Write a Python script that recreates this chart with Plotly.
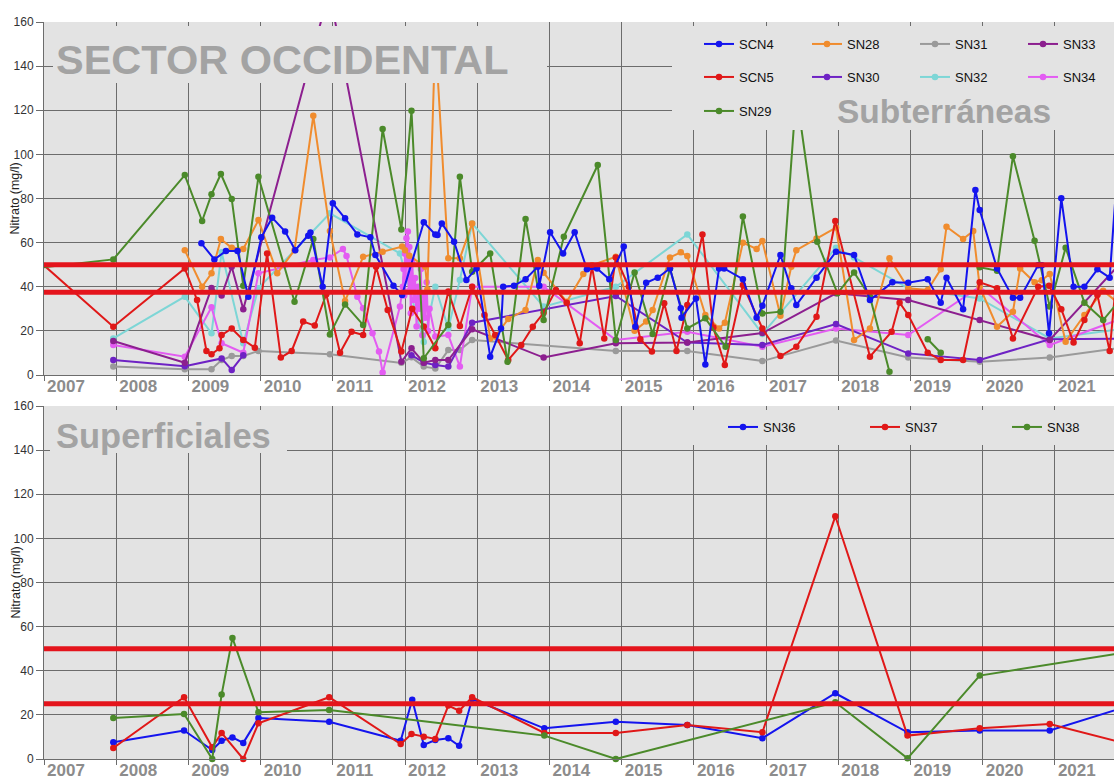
import plotly.graph_objects as go

# ---------------- DATA ----------------
years = list(range(2007, 2022))
year_labels = [str(y) for y in years]

limits_top = [50, 37.5]
limits_bottom = [50, 25]

# Subterráneas
scn4_x = [2009.18, 2009.36, 2009.52, 2009.68, 2009.83, 2010.01, 2010.16, 2010.34, 2010.48, 2010.66, 2010.69, 2010.86,
          2011.00, 2011.17, 2011.34, 2011.52, 2011.59, 2011.84, 2011.96, 2012.26, 2012.42, 2012.45, 2012.51, 2012.68,
          2012.85, 2012.99, 2013.18, 2013.33, 2013.36, 2013.51, 2013.67, 2013.84, 2013.86, 2014.01, 2014.19, 2014.35,
          2014.52, 2014.66, 2014.83, 2015.03, 2015.19, 2015.34, 2015.50, 2015.67, 2015.82, 2015.83, 2016.03, 2016.16,
          2016.35, 2016.42, 2016.68, 2016.87, 2016.95, 2017.20, 2017.35, 2017.42, 2017.70, 2017.97, 2018.22, 2018.44,
          2018.75, 2018.97, 2019.24, 2019.42, 2019.50, 2019.73, 2019.90, 2019.96, 2020.20, 2020.42, 2020.52, 2020.77,
          2020.82, 2020.92, 2021.09, 2021.26, 2021.41, 2021.59, 2021.76, 2021.86]
scn4_y = [59.7, 52.4, 56.2, 56.2, 35.5, 62.4, 71.3, 65.0, 56.6, 63.1, 64.6, 40.0,
          77.8, 71.0, 63.7, 62.4, 54.4, 40.5, 36.3, 69.2, 63.7, 63.5, 68.7, 60.4,
          43.1, 48.3, 8.3, 21.1, 40.0, 40.5, 43.4, 49.1, 40.5, 64.7, 55.1, 64.7,
          47.9, 48.3, 43.4, 58.2, 21.9, 41.8, 44.1, 48.3, 30.2, 26.0, 34.7, 4.8,
          48.3, 48.3, 43.4, 26.0, 31.4, 54.4, 39.3, 31.7, 44.1, 55.9, 54.4, 34.0,
          42.0, 41.8, 43.4, 32.8, 44.1, 29.8, 83.8, 74.8, 48.3, 35.0, 35.0, 49.8,
          49.8, 18.9, 80.1, 40.0, 40.0, 47.9, 44.1, 90.0]

scn5_x = [2006.99, 2007.96, 2008.95, 2009.12, 2009.25, 2009.32, 2009.43, 2009.46, 2009.60, 2009.76, 2009.92, 2010.09,
          2010.28, 2010.43, 2010.59, 2010.75, 2010.91, 2011.10, 2011.26, 2011.42, 2011.60, 2011.76, 2011.95, 2012.10,
          2012.26, 2012.42, 2012.60, 2012.76, 2012.93, 2013.10, 2013.25, 2013.43, 2013.61, 2013.77, 2013.92, 2014.09,
          2014.24, 2014.42, 2014.59, 2014.76, 2014.92, 2015.10, 2015.26, 2015.42, 2015.59, 2015.76, 2015.91, 2016.12,
          2016.27, 2016.43, 2016.68, 2016.95, 2017.20, 2017.42, 2017.70, 2017.96, 2018.44, 2018.74, 2018.85, 2018.97,
          2019.24, 2019.42, 2019.73, 2019.96, 2020.20, 2020.42, 2020.77, 2020.92, 2021.09, 2021.26, 2021.41, 2021.59,
          2021.76, 2021.87]
scn5_y = [50.0, 21.9, 48.3, 34.0, 10.9, 9.4, 12.1, 18.1, 21.1, 15.9, 12.4, 55.1,
          7.9, 10.9, 24.2, 22.4, 36.6, 10.1, 19.6, 18.1, 49.1, 29.5, 10.6, 30.0,
          22.0, 12.1, 37.8, 22.2, 40.0, 27.2, 18.1, 6.8, 13.6, 21.9, 28.2, 38.5,
          32.8, 14.4, 49.1, 16.6, 53.3, 40.0, 16.2, 10.6, 32.5, 10.9, 31.7, 63.7,
          21.5, 4.5, 40.8, 21.1, 8.6, 12.8, 26.4, 69.8, 8.3, 19.6, 32.8, 27.2,
          10.1, 6.8, 6.8, 42.0, 39.3, 16.6, 40.0, 40.5, 29.8, 14.7, 24.9, 36.3,
          10.9, 50.0]

sn29_x = [2006.99, 2007.96, 2008.95, 2009.19, 2009.32, 2009.45, 2009.60, 2009.76, 2009.97, 2010.47, 2010.73, 2010.96,
          2011.17, 2011.42, 2011.69, 2011.95, 2012.09, 2012.26, 2012.60, 2012.76, 2012.93, 2013.18, 2013.42, 2013.67,
          2013.92, 2014.20, 2014.67, 2014.92, 2015.18, 2015.43, 2015.67, 2015.91, 2016.16, 2016.44, 2016.68, 2016.95,
          2017.20, 2017.42, 2017.71, 2017.99, 2018.22, 2018.44, 2018.71, None, 2019.24, 2019.42, None, 2019.96,
          2020.20, 2020.42, 2020.72, 2020.93, 2021.15, 2021.41, 2021.67, 2021.90]
sn29_y = [48.8, 52.4, 90.6, 69.8, 81.9, 91.1, 79.8, 40.5, 89.9, 33.2, 61.6, 18.4,
          32.0, 22.7, 111.5, 66.0, 119.8, 7.6, 22.7, 89.9, 46.8, 55.1, 6.0, 70.7,
          24.9, 62.7, 95.2, 15.9, 46.5, 18.6, 48.3, 21.1, 25.7, 12.8, 71.8, 27.9,
          28.7, 128.0, 60.4, 37.0, 46.5, 35.5, 1.5, None, 16.2, 10.1, None, 48.8,
          47.3, 99.2, 60.9, 31.0, 57.7, 32.8, 24.9, 34.0]

sn28_x = [2008.95, 2009.19, 2009.32, 2009.45, 2009.60, 2009.76, 2009.97, 2010.23, 2010.47, 2010.73, 2010.96, 2011.17,
          2011.42, 2011.69, 2011.96, 2012.00, 2012.06, 2012.28, 2012.31, 2012.42, 2012.60, 2012.76, 2012.93, 2013.18,
          2013.25, 2013.43, 2013.67, 2013.84, 2013.92, 2014.24, 2014.47, 2014.59, 2014.92, 2015.18, 2015.34, 2015.43,
          2015.67, 2015.82, 2015.91, 2016.16, 2016.35, 2016.43, 2016.68, 2016.87, 2016.95, 2017.20, 2017.35, 2017.42,
          2017.70, 2017.97, 2018.22, 2018.44, 2018.71, 2018.97, 2019.24, 2019.42, 2019.50, 2019.73, 2019.87, 2019.96,
          2020.20, 2020.42, 2020.52, 2020.72, 2020.82, 2020.93, 2021.15, 2021.41, 2021.67, 2021.90]
sn28_y = [56.6, 40.0, 46.1, 61.6, 57.7, 57.1, 70.2, 46.1, 56.6, 117.5, 65.3, 33.5,
          53.6, 55.9, 58.2, 56.6, 54.0, 49.1, 38.8, 154.0, 52.9, 52.9, 68.7, 16.6,
          17.5, 25.4, 29.5, 52.1, 46.4, 33.2, 45.8, 49.8, 53.6, 20.1, 24.2, 29.5,
          53.3, 55.6, 53.9, 27.2, 21.1, 23.7, 60.0, 57.1, 60.7, 26.9, 49.1, 56.6,
          61.9, 66.8, 15.9, 21.1, 52.9, 39.3, 38.5, 47.9, 67.2, 61.6, 65.3, 40.0,
          21.9, 28.7, 48.3, 42.0, 43.0, 45.8, 15.1, 27.2, 38.2, 32.0]

sn31_x = [2007.96, 2008.95, 2009.32, 2009.46, 2009.60, 2009.76, 2009.97, 2010.96, 2011.95, 2012.09, 2012.26, 2012.42,
          2012.60, 2012.76, 2012.93, 2014.92, 2015.91, 2016.95, 2017.97, 2018.97, 2019.96, 2020.93, 2021.92]
sn31_y = [3.8, 2.6, 2.6, 6.8, 8.6, 8.6, 10.9, 9.4, 5.5, 8.0, 3.8, 3.0,
          11.3, 11.3, 15.9, 10.9, 10.9, 6.3, 15.6, 7.9, 6.0, 7.9, 12.3]

sn32_x = [2007.96, 2008.95, 2009.32, 2009.46, 2009.76, 2009.97, 2010.96, 2011.93, 2012.26, 2012.42, 2012.60, 2012.76,
          2012.93, 2013.92, 2014.92, 2015.91, 2016.95, 2017.97, 2018.22, 2018.97, 2019.96, 2020.93, 2021.92]
sn32_y = [16.6, 35.5, 18.9, 55.6, 14.4, 39.3, 73.3, 55.1, 15.0, 40.0, 21.1, 43.1,
          68.7, 31.0, 40.0, 63.7, 18.6, 57.7, 53.3, 39.3, 34.7, 16.6, 20.8]

sn33_x = [2007.96, 2008.95, 2009.32, 2009.46, 2009.60, 2009.76, 2010.95, 2011.95, 2012.09, 2012.26, 2012.42, 2012.60,
          2012.93, 2013.92, 2014.92, 2015.91, 2016.95, 2017.97, 2018.97, 2019.96, 2020.93, 2021.92]
sn33_y = [15.4, 5.6, 39.4, 36.0, 49.1, 29.8, 174.0, 6.0, 12.1, 5.6, 6.8, 6.8,
          20.7, 7.9, 14.4, 14.7, 19.0, 37.0, 34.0, 24.9, 15.9, 51.0]

sn30_x = [2007.96, 2008.95, 2009.46, 2009.60, 2009.76, None, 2012.09, 2012.26, 2012.42, 2012.60, 2012.93, 2014.92,
          2015.91, 2016.95, 2017.97, 2018.97, 2019.96, 2020.93, 2021.92]
sn30_y = [6.8, 4.0, 7.5, 2.3, 9.0, None, 9.0, 5.6, 4.5, 3.8, 23.7, 35.8,
          14.7, 13.6, 23.1, 9.8, 6.8, 16.2, 16.5]

sn34_x = [2007.96, 2008.95, 2009.32, 2009.46, 2009.76, 2009.97, 2010.73, 2010.96, 2011.14, 2011.19, 2011.34, 2011.42,
          2011.55, 2011.64, 2011.69, 2011.93, 2011.97, 2011.98, 2011.99, 2012.00, 2012.01, 2012.02, 2012.03, 2012.04,
          2012.05, 2012.06, 2012.07, 2012.08, 2012.10, 2012.12, 2012.14, 2012.16, 2012.18, 2012.20, 2012.22, 2012.24,
          2012.26, 2012.28, 2012.30, 2012.32, 2012.34, 2012.42, 2012.60, 2012.76, 2012.93, 2013.92, 2014.92, 2015.91,
          2016.95, 2017.97, 2018.97, 2019.96, 2020.93, 2021.92]
sn34_y = [13.6, 8.3, 30.7, 14.4, 10.1, 46.1, 52.1, 53.3, 57.1, 53.9, 35.5, 30.2,
          18.9, 10.6, 1.1, 31.0, 40.0, 48.0, 36.0, 55.0, 44.0, 62.0, 50.0, 65.0,
          38.0, 58.0, 46.0, 28.0, 52.0, 34.0, 44.0, 22.0, 40.0, 30.0, 48.0, 18.0,
          36.0, 26.0, 42.0, 20.0, 30.0, 17.4, 18.1, 3.8, 40.0, 40.0, 15.9, 19.6,
          12.8, 21.1, 18.1, 40.0, 13.6, 25.5]

# Superficiales
sn36_x = [2007.96, 2008.94, 2009.33, 2009.46, 2009.61, 2009.76, 2009.97, 2010.95, 2011.94, 2012.10, 2012.26, 2012.42,
          2012.60, 2012.75, 2012.93, 2013.93, 2014.92, 2015.91, 2016.95, 2017.96, 2018.96, 2019.96, 2020.93, 2021.92]
sn36_y = [7.6, 12.9, 4.1, 8.3, 9.8, 7.3, 18.6, 16.9, 8.3, 26.9, 6.4, 8.6,
          9.4, 6.0, 27.2, 13.9, 16.9, 15.4, 9.4, 29.8, 12.1, 12.9, 12.9, 23.0]

sn37_x = [2007.96, 2008.94, 2009.33, 2009.46, 2009.76, 2009.97, 2010.95, 2011.94, 2012.09, 2012.26, 2012.42, 2012.60,
          2012.75, 2012.93, 2013.93, 2014.92, 2015.91, 2016.95, 2017.96, 2018.96, 2019.96, 2020.93, 2021.92]
sn37_y = [5.0, 28.0, 5.3, 11.8, 0.0, 16.2, 28.0, 6.8, 11.3, 10.1, 9.1, 24.2,
          21.9, 28.0, 11.8, 11.8, 15.4, 12.1, 110.0, 10.6, 13.9, 15.9, 7.5]

sn38_x = [2007.96, 2008.94, 2009.33, 2009.46, 2009.61, 2009.97, 2010.95, 2013.93, 2014.92, 2017.96, 2018.96, 2019.96,
          2021.95]
sn38_y = [18.6, 20.4, 0.0, 29.2, 54.9, 21.2, 22.2, 10.6, 0.0, 25.7, 0.3, 37.8,
          48.2]

# ---------------- STYLE ----------------
W, H = 1114, 779
ML, MR, MT, MB = 44, 0, 22, 20
PW, PH = W - ML - MR, H - MT - MB
BG = "#e3e3e3"
GRID = "#6c6c6c"


def px_x(px):
    return (px - ML) / PW


def px_y(py):
    return (H - MB - py) / PH


colors = {
    "SCN4": "#1414ee", "SCN5": "#e01818", "SN29": "#4b8a2a", "SN28": "#f08c2e",
    "SN30": "#6e22c4", "SN31": "#9a9a9a", "SN32": "#7dd6d6", "SN33": "#8c1f8f",
    "SN34": "#e35cf2", "SN36": "#1414ee", "SN37": "#e01818", "SN38": "#4b8a2a",
}

top_series = [
    ("SCN4", scn4_x, scn4_y, "legend"), ("SN28", sn28_x, sn28_y, "legend"),
    ("SN31", sn31_x, sn31_y, "legend"), ("SN33", sn33_x, sn33_y, "legend"),
    ("SCN5", scn5_x, scn5_y, "legend2"), ("SN30", sn30_x, sn30_y, "legend2"),
    ("SN32", sn32_x, sn32_y, "legend2"), ("SN34", sn34_x, sn34_y, "legend2"),
    ("SN29", sn29_x, sn29_y, "legend3"),
]
bottom_series = [
    ("SN36", sn36_x, sn36_y), ("SN37", sn37_x, sn37_y), ("SN38", sn38_x, sn38_y),
]

fig = go.Figure()
draw_order = ["SN31", "SN32", "SN34", "SN30", "SN33", "SN28", "SCN5", "SN29", "SCN4"]
legend_rank = {name: i for i, (name, *_rest) in enumerate(top_series)}
lookup = {s[0]: s for s in top_series}
for name in draw_order:
    _, xs, ys, leg = lookup[name]
    fig.add_trace(go.Scatter(
        x=xs, y=ys, name=name, mode="lines+markers", xaxis="x", yaxis="y",
        line=dict(color=colors[name], width=2), marker=dict(size=6.5, color=colors[name]),
        legend=leg, legendrank=legend_rank[name] + 1, connectgaps=False, cliponaxis=False,
    ))
for i, (name, xs, ys) in enumerate(bottom_series):
    fig.add_trace(go.Scatter(
        x=xs, y=ys, name=name, mode="lines+markers", xaxis="x2", yaxis="y2",
        line=dict(color=colors[name], width=2), marker=dict(size=6.5, color=colors[name]),
        legend="legend4", legendrank=i + 1, cliponaxis=False,
    ))

x_common = dict(
    range=[2007.0, 2021.82], tickmode="array", tickvals=years, ticktext=year_labels,
    showgrid=True, gridcolor=GRID, gridwidth=1, ticks="outside", ticklen=5, tickcolor=GRID,
    ticklabelshift=22, ticklabelstandoff=-9, showline=True, linecolor=GRID, linewidth=1, zeroline=False,
    tickfont=dict(family="Liberation Sans Narrow, Arial Narrow, Liberation Sans, Arial",
                  size=17, color="#8c8c8c", weight="bold"),
    fixedrange=True, automargin=False,
)
y_common = dict(
    range=[0, 160], tickmode="linear", tick0=0, dtick=20, showgrid=True, gridcolor=GRID,
    gridwidth=1, ticks="outside", ticklen=7, tickcolor=GRID, showline=True, linecolor=GRID,
    linewidth=1, zeroline=False, tickfont=dict(family="Liberation Sans, Arial", size=12, color="#333333"),
    fixedrange=True, automargin=False,
)

top_dom = [px_y(375), 1.0]
bot_dom = [0.0, px_y(406)]

leg_common = dict(
    orientation="h", bgcolor="rgba(0,0,0,0)", borderwidth=0, itemwidth=30,
    entrywidthmode="pixels", xanchor="left", yanchor="middle",
    font=dict(family="Liberation Sans, Arial", size=13, color="#111111"),
    xref="paper", yref="paper", itemclick=False, itemdoubleclick=False,
)

fig.update_layout(
    width=W, height=H, paper_bgcolor="white", plot_bgcolor=BG,
    margin=dict(l=ML, r=MR, t=MT, b=MB, pad=0, autoexpand=False), showlegend=True,
    xaxis=dict(x_common, anchor="y", domain=[0, 1]),
    xaxis2=dict(x_common, anchor="y2", domain=[0, 1], matches="x"),
    yaxis=dict(y_common, anchor="x", domain=top_dom),
    yaxis2=dict(y_common, anchor="x2", domain=bot_dom),
    legend=dict(leg_common, x=px_x(699), y=px_y(44), entrywidth=63),
    legend2=dict(leg_common, x=px_x(699), y=px_y(77), entrywidth=63),
    legend3=dict(leg_common, x=px_x(699), y=px_y(111), entrywidth=63),
    legend4=dict(leg_common, x=px_x(723), y=px_y(427), entrywidth=97),
)

# Boxes that hide the grid behind titles and legends
boxes = [(53, 26, 547, 83), (672, 26, 1114, 130), (50, 410, 287, 453), (650, 410, 1114, 445)]
shapes = []
for x0, y0, x1, y1 in boxes:
    shapes.append(dict(type="rect", xref="paper", yref="paper", x0=px_x(x0), x1=px_x(x1),
                       y0=px_y(y1), y1=px_y(y0), fillcolor=BG, line=dict(width=0), layer="above"))
for v in limits_top:
    shapes.append(dict(type="line", xref="x domain", yref="y", x0=0, x1=1, y0=v, y1=v,
                       line=dict(color="#e4141c", width=5), layer="above"))
for v in limits_bottom:
    shapes.append(dict(type="line", xref="x2 domain", yref="y2", x0=0, x1=1, y0=v, y1=v,
                       line=dict(color="#e4141c", width=5), layer="above"))
fig.update_layout(shapes=shapes)

title_font = dict(family="Liberation Sans, Arial", color="#a3a3a3", weight="bold")
annos = [
    dict(text="SECTOR OCCIDENTAL", x=px_x(54), y=px_y(60), size=41.5),
    dict(text="Subterráneas", x=px_x(835), y=px_y(111), size=33.5),
    dict(text="Superficiales", x=px_x(54), y=px_y(436), size=34.5),
]
for a in annos:
    fig.add_annotation(text=a["text"], x=a["x"], y=a["y"], xref="paper", yref="paper",
                       xanchor="left", yanchor="middle", showarrow=False,
                       font=dict(title_font, size=a["size"]))
for cy in [(22 + 375) / 2, (406 + 759) / 2]:
    fig.add_annotation(text="Nitrato (mg/l)", x=px_x(15), y=px_y(cy), xref="paper", yref="paper",
                       xanchor="center", yanchor="middle", showarrow=False, textangle=-90,
                       font=dict(family="Liberation Sans, Arial", size=12.5, color="#222222"))

fig.write_html("out.html", config={"displayModeBar": False, "staticPlot": True},
               post_script="document.body.style.margin='0px';document.body.style.overflow='hidden';")
